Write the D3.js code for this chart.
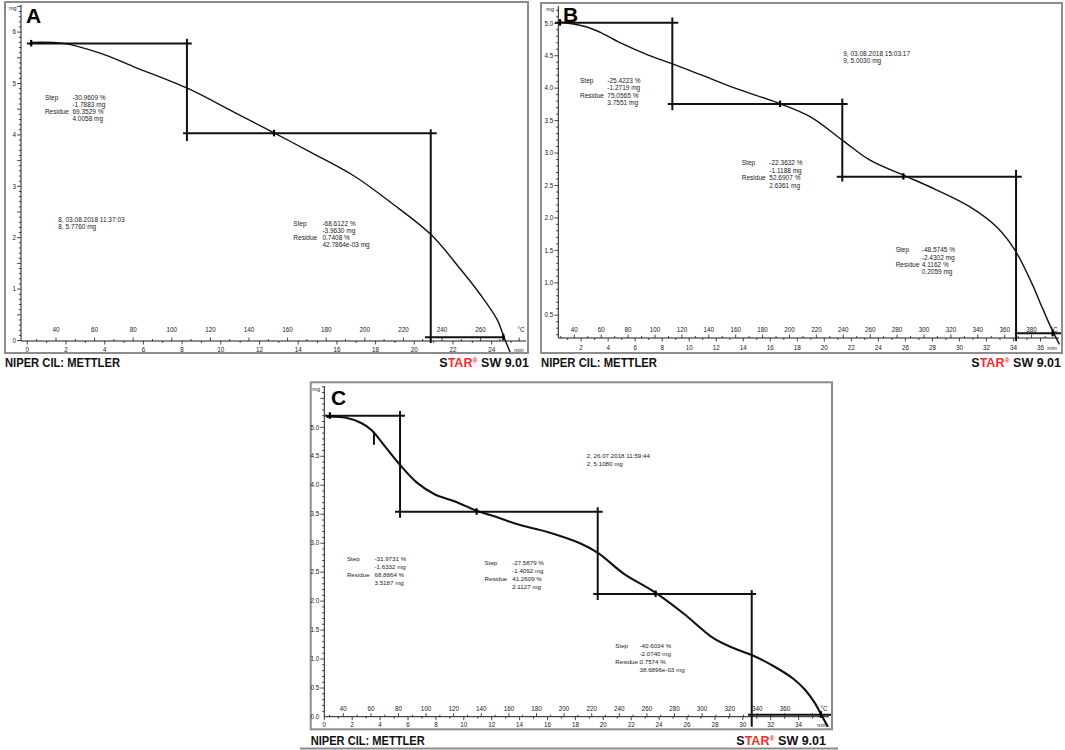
<!DOCTYPE html>
<html><head><meta charset="utf-8">
<script src="https://cdn.jsdelivr.net/npm/d3@7"></script>
<style>body{margin:0;background:#fff}svg{display:block}</style>
</head><body>
<svg id="chart" width="1065" height="750"></svg>
<script>
// ---------------- DATA (time in min, mass in mg) ----------------
const curveA = [[0.23,5.80],[1.86,5.78],[3.76,5.59],[5.48,5.33],[8.27,4.91],[10.65,4.45],[12.75,4.04],[14.61,3.67],[16.85,3.21],[18.91,2.65],[20.86,2.06],[22.36,1.40],[23.4,0.90],[24.29,0.40],[24.64,0.06],[24.98,-0.25]];
const curveB = [[0.44,5.02],[2.29,4.95],[3.52,4.85],[5.00,4.69],[6.97,4.51],[8.82,4.37],[10.93,4.20],[13.39,4.00],[16.72,3.76],[18.94,3.56],[21.33,3.20],[23.38,2.89],[25.85,2.66],[28.32,2.43],[30.78,2.17],[32.76,1.86],[34.12,1.50],[35.47,0.94],[36.1,0.63],[36.8,0.30],[37.4,0.05]];
const curveC = [[0.17,5.18],[1.48,5.17],[2.68,5.07],[3.40,4.95],[4.35,4.67],[5.43,4.35],[6.62,4.05],[7.94,3.84],[9.37,3.72],[10.92,3.56],[12.24,3.46],[13.79,3.33],[16.06,3.19],[18.33,3.00],[19.64,2.83],[21.43,2.48],[23.71,2.15],[25.73,1.79],[27.89,1.36],[29.32,1.19],[30.64,1.07],[32.19,0.88],[33.62,0.66],[34.46,0.47],[35.17,0.24],[35.67,0.02],[36.1,-0.17]];
const spikeC = [[3.56,4.90],[3.56,4.70]];

// step construction lines: [[t1,mg1],[t2,mg2]]
const stepsA = [[[-0.02,5.78],[8.5,5.78]],[[8.25,5.87],[8.25,3.88]],[[8.05,4.03],[21.16,4.03]],[[20.85,4.11],[20.85,-0.05]],[[20.55,0.062],[24.69,0.062]]];
const stepsB = [[[0.07,5.01],[9.19,5.01]],[[8.75,5.09],[8.75,3.66]],[[8.41,3.755],[21.73,3.755]],[[21.33,3.84],[21.33,2.56]],[[20.92,2.636],[34.61,2.636]],[[34.19,2.74],[34.19,0.1]],[[34.1,0.22],[37.8,0.22]]];
const stepsC = [[[0.05,5.20],[5.78,5.20]],[[5.43,5.28],[5.43,3.44]],[[5.07,3.543],[19.96,3.543]],[[19.60,3.62],[19.60,2.02]],[[19.28,2.123],[30.95,2.123]],[[30.64,2.19],[30.64,-0.17]],[[30.37,0.04],[36.4,0.04]]];

const markersA = [[0.2,5.78],[12.75,4.03],[24.6,0.062]];
const markersB = [[0.44,5.01],[16.72,3.755],[25.85,2.636],[36.9,0.22]];
const markersC = [[0.4,5.20],[10.92,3.543],[23.75,2.123],[35.6,0.04]];

// annotation text blocks
const notesA = [
  {lt:0.91, vt:2.33, mg:4.68, rows:[["Step","-30.9609 %"],["","-1.7883 mg"],["Residue","69.3529 %"],["","4.0058 mg"]]},
  {lt:13.75, vt:15.25, mg:2.23, rows:[["Step","-68.6122 %"],["","-3.9630 mg"],["Residue","0.7408 %"],["","42.7864e-03 mg"]]},
  {lt:1.60, vt:1.60, mg:2.305, rows:[["","8, 03.08.2018 11:37:03"],["","8, 5.7760 mg"]]}
];
const notesB = [
  {lt:1.92, vt:3.94, mg:4.08, rows:[["Step","-25.4223 %"],["","-1.2719 mg"],["Residue","75.0565 %"],["","3.7551 mg"]]},
  {lt:13.89, vt:15.93, mg:2.81, rows:[["Step","-22.3632 %"],["","-1.1188 mg"],["Residue","52.6907 %"],["","2.6361 mg"]]},
  {lt:25.28, vt:27.21, mg:1.47, rows:[["Step","-48.5745 %"],["","-2.4302 mg"],["Residue","4.1162 %"],["","0.2059 mg"]]},
  {lt:21.4, vt:21.4, mg:4.50, rows:[["","9, 03.08.2018 15:03:17"],["","9, 5.0030 mg"]]}
];
const notesC = [
  {lt:1.62, vt:3.60, mg:2.70, rows:[["Step","-31.9731 %"],["","-1.6332 mg"],["Residue","68.8864 %"],["","3.5187 mg"]]},
  {lt:11.49, vt:13.47, mg:2.62, rows:[["Step","-27.5879 %"],["","-1.4092 mg"],["Residue","41.2609 %"],["","2.1127 mg"]]},
  {lt:20.86, vt:22.60, mg:1.19, rows:[["Step","-40.6034 %"],["","-2.0740 mg"],["Residue","0.7574 %"],["","38.6896e-03 mg"]]},
  {lt:18.81, vt:18.81, mg:4.47, rows:[["","2, 26.07.2018 11:59:44"],["","2, 5.1080 mg"]]}
];

// tick labels
const minLabelsA = [0,2,4,6,8,10,12,14,16,18,20,22,24];
const minLabelsB = [2,4,6,8,10,12,14,16,18,20,22,24,26,28,30,32,34,36];
const minLabelsC = [0,2,4,6,8,10,12,14,16,18,20,22,24,26,28,30,32,34];
const tempLabelsA = [40,60,80,100,120,140,160,180,200,220,240,260];
const tempLabelsB = [40,60,80,100,120,140,160,180,200,220,240,260,280,300,320,340,360,380];
const tempLabelsC = [40,60,80,100,120,140,160,180,200,220,240,260,280,300,320,340,360];
const yLabelsA = [0,1,2,3,4,5,6];
const yLabelsB = [0.5,1.0,1.5,2.0,2.5,3.0,3.5,4.0,4.5,5.0];
const yLabelsC = [0.0,0.5,1.0,1.5,2.0,2.5,3.0,3.5,4.0,4.5,5.0];

// ---------------- LAYOUT ----------------
const panels = [
  {id:"A", curve:curveA, steps:stepsA, markers:markersA, notes:notesA, spike:null,
   minL:minLabelsA, tempL:tempLabelsA, yL:yLabelsA, yFmt:d3.format("d"),
   frame:[5,2,523,351], axisX:21, axisY:341, axisTop:5, axisRight:526,
   xd:[0,24], xr:[27.3,491.7], yd:[0,6], yr:[340.5,32.1], td:[40,260], tr:[56,480.6],
   curveW:1.4, fs:6.5, lh:6.9, tempY:332, minY:351.5, footY:367, starEnd:529, niperW:115,
   letter:[26,23], footW:"bold"},
  {id:"B", curve:curveB, steps:stepsB, markers:markersB, notes:notesB, spike:null,
   minL:minLabelsB, tempL:tempLabelsB, yL:yLabelsB, yFmt:d3.format(".1f"),
   frame:[541,3,521,350], axisX:558.3, axisY:338, axisTop:6, axisRight:1059,
   xd:[0,36], xr:[554.1,1040.5], yd:[0.5,5.0], yr:[315.2,23.3], td:[40,380], tr:[574.3,1031.6],
   curveW:1.4, fs:6.5, lh:7.4, tempY:332, minY:350, footY:367, starEnd:1061, niperW:116,
   letter:[563,22], footW:"bold"},
  {id:"C", curve:curveC, steps:stepsC, markers:markersC, notes:notesC, spike:spikeC,
   minL:minLabelsC, tempL:tempLabelsC, yL:yLabelsC, yFmt:d3.format(".1f"),
   frame:[310.7,382.3,521.3,347], axisX:324.3, axisY:716.7, axisTop:386, axisRight:829,
   xd:[0,34], xr:[324.3,798.6], yd:[0,5], yr:[717,427.3], td:[40,360], tr:[343.3,784.9],
   curveW:2.1, fs:6.2, lh:8, tempY:710.5, minY:726.5, footY:745, starEnd:826, niperW:114,
   letter:[331,405], footW:"900"}
];

const svg = d3.select("#chart");
const ink = "#1a1a1a";
const smallFont = "'Liberation Sans', Arial, sans-serif";

panels.forEach(p => {
  const g = svg.append("g");
  const x = d3.scaleLinear().domain(p.xd).range(p.xr);
  const y = d3.scaleLinear().domain(p.yd).range(p.yr);
  const tx = d3.scaleLinear().domain(p.td).range(p.tr);
  const [fx, fy, fw, fh] = p.frame;

  // frame
  g.append("rect").attr("x", fx).attr("y", fy).attr("width", fw).attr("height", fh)
    .attr("fill", "#fff").attr("stroke", "#8c8c8c").attr("stroke-width", 2);

  const clipId = "clip" + p.id;
  g.append("clipPath").attr("id", clipId).append("rect")
    .attr("x", fx + 1).attr("y", fy + 1).attr("width", fw - 2).attr("height", fh - 2);

  // y axis line
  g.append("line").attr("x1", p.axisX).attr("x2", p.axisX).attr("y1", p.axisTop).attr("y2", p.axisY)
    .attr("stroke", ink).attr("stroke-width", 1);
  // y minor ticks every 0.1 mg
  const yMin = y.invert(p.axisY), yMax = y.invert(p.axisTop);
  const yTicks = d3.range(Math.ceil(yMin * 10), Math.floor(yMax * 10) + 1).map(v => v / 10);
  g.selectAll(".ymt").data(yTicks).join("line")
    .attr("x1", d => p.axisX - (Math.abs(d * 2 - Math.round(d * 2)) < 1e-6 ? 4 : 2.2)).attr("x2", p.axisX)
    .attr("y1", d => y(d)).attr("y2", d => y(d)).attr("stroke", ink).attr("stroke-width", 0.8);
  g.selectAll(".yl").data(p.yL).join("text")
    .attr("x", p.axisX - 5).attr("y", d => y(d) + 2.2).attr("text-anchor", "end")
    .attr("font-family", smallFont).attr("font-size", 6.3).attr("fill", ink).text(d => p.yFmt(d));
  g.append("text").attr("x", p.axisX - 12).attr("y", p.axisTop + 5).attr("font-family", smallFont)
    .attr("font-size", 5.5).attr("fill", ink).text("mg");

  // x axis line
  g.append("line").attr("x1", p.axisX).attr("x2", p.axisRight).attr("y1", p.axisY).attr("y2", p.axisY)
    .attr("stroke", ink).attr("stroke-width", 1);
  // minute ticks (below)
  const tMin = Math.ceil(x.invert(p.axisX)), tMax = Math.floor(x.invert(p.axisRight - 6));
  const minTicks = d3.range(tMin, tMax + 1);
  g.selectAll(".mt").data(minTicks).join("line")
    .attr("x1", d => x(d)).attr("x2", d => x(d)).attr("y1", p.axisY)
    .attr("y2", d => p.axisY + (d % 2 === 0 ? 3.5 : 2)).attr("stroke", ink).attr("stroke-width", 0.8);
  g.selectAll(".ml").data(p.minL).join("text")
    .attr("x", d => x(d)).attr("y", p.minY).attr("text-anchor", "middle")
    .attr("font-family", smallFont).attr("font-size", 6.3).attr("fill", ink).text(d => d);
  // temperature ticks (above)
  const T0 = Math.ceil(tx.invert(p.axisX) / 10) * 10, T1 = Math.floor(tx.invert(p.axisRight - 6) / 10) * 10;
  const tempTicks = d3.range(T0, T1 + 1, 10);
  g.selectAll(".tt").data(tempTicks).join("line")
    .attr("x1", d => tx(d)).attr("x2", d => tx(d)).attr("y2", p.axisY)
    .attr("y1", d => p.axisY - (d % 20 === 0 ? 3.5 : 2)).attr("stroke", ink).attr("stroke-width", 0.8);
  g.selectAll(".tl").data(p.tempL).join("text")
    .attr("x", d => tx(d)).attr("y", p.tempY).attr("text-anchor", "middle")
    .attr("font-family", smallFont).attr("font-size", 6.3).attr("fill", ink).text(d => d);
  g.append("text").attr("x", p.axisRight - 5).attr("y", p.tempY).attr("text-anchor", "middle")
    .attr("font-family", smallFont).attr("font-size", 6.3).attr("fill", ink).text("°C");
  g.append("text").attr("x", p.axisRight - 7).attr("y", p.minY).attr("text-anchor", "middle")
    .attr("font-family", smallFont).attr("font-size", 5.8).attr("fill", ink).text("min");

  const plot = g.append("g").attr("clip-path", `url(#${clipId})`);
  // step construction lines
  plot.selectAll(".st").data(p.steps).join("line")
    .attr("x1", d => x(d[0][0])).attr("y1", d => y(d[0][1]))
    .attr("x2", d => x(d[1][0])).attr("y2", d => y(d[1][1]))
    .attr("stroke", "#111").attr("stroke-width", 2);
  // curve
  const line = d3.line().x(d => x(d[0])).y(d => y(d[1])).curve(d3.curveCatmullRom.alpha(0.5));
  plot.append("path").datum(p.curve).attr("d", line).attr("fill", "none")
    .attr("stroke", "#111").attr("stroke-width", p.curveW).attr("stroke-linejoin", "round");
  if (p.spike) {
    plot.append("path").datum(p.spike).attr("d", d3.line().x(d => x(d[0])).y(d => y(d[1])))
      .attr("stroke", "#111").attr("stroke-width", 2);
  }
  // markers
  plot.selectAll(".mk").data(p.markers).join("line")
    .attr("x1", d => x(d[0])).attr("x2", d => x(d[0]))
    .attr("y1", d => y(d[1]) - 3.5).attr("y2", d => y(d[1]) + 3)
    .attr("stroke", "#000").attr("stroke-width", 2.2);

  // annotations
  p.notes.forEach(n => {
    n.rows.forEach((r, i) => {
      const yy = y(n.mg) + i * p.lh;
      if (r[0]) g.append("text").attr("x", x(n.lt)).attr("y", yy).attr("font-family", smallFont)
        .attr("font-size", p.fs).attr("fill", ink).text(r[0]);
      g.append("text").attr("x", x(n.vt)).attr("y", yy).attr("font-family", smallFont)
        .attr("font-size", p.fs).attr("fill", ink).text(r[1]);
    });
  });

  // panel letter
  g.append("text").attr("x", p.letter[0]).attr("y", p.letter[1])
    .attr("font-family", "'Liberation Sans', Arial, sans-serif").attr("font-weight", "bold")
    .attr("font-size", 21).attr("fill", "#000").text(p.id);

  // footer
  g.append("text").attr("x", fx).attr("y", p.footY)
    .attr("font-family", "'Liberation Sans', Arial, sans-serif").attr("font-weight", p.footW)
    .attr("font-size", 12.5).attr("fill", "#111")
    .attr("textLength", p.niperW).attr("lengthAdjust", "spacingAndGlyphs")
    .text("NIPER CIL: METTLER");
  const star = g.append("text").attr("x", p.starEnd).attr("y", p.footY).attr("text-anchor", "end")
    .attr("font-family", "'Liberation Sans', Arial, sans-serif").attr("font-weight", p.footW)
    .attr("font-size", 12.5).attr("fill", "#111");
  star.append("tspan").text("S");
  star.append("tspan").attr("fill", "#e8312a").text("TAR");
  star.append("tspan").attr("fill", "#e8312a").attr("font-size", 7).attr("dy", -4).text("®");
  star.append("tspan").attr("dy", 4).text(" SW 9.01");

  if (p.id === "C") {
    g.append("line").attr("x1", 300).attr("x2", 838).attr("y1", 748.5).attr("y2", 748.5)
      .attr("stroke", "#8c8c8c").attr("stroke-width", 2);
  }
});
</script>
</body></html>
